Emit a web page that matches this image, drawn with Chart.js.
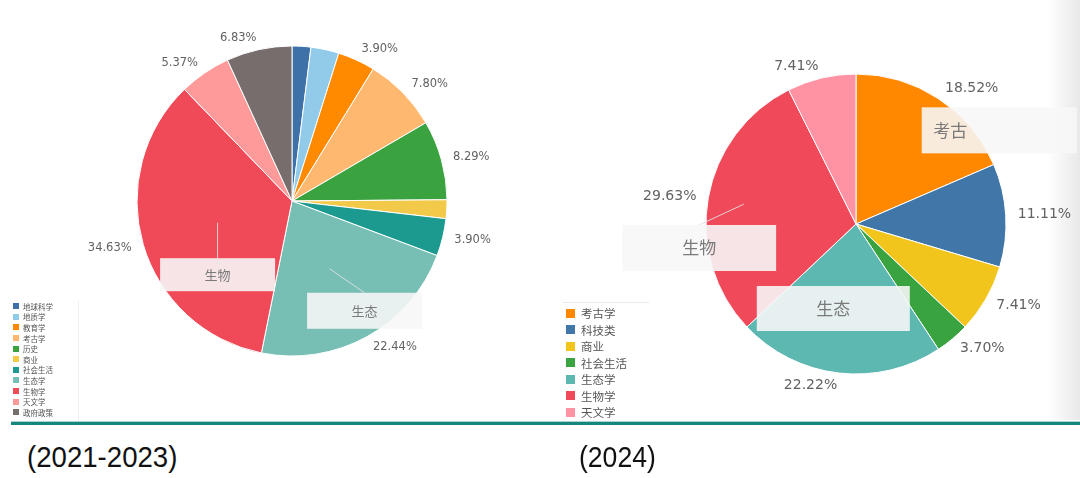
<!DOCTYPE html>
<html>
<head>
<meta charset="utf-8">
<script src="https://cdn.jsdelivr.net/npm/chart.js@4.4.1/dist/chart.umd.min.js"></script>
<style>
  html, body { margin: 0; padding: 0; background: #fff; }
  body { width: 1080px; height: 478px; position: relative; overflow: hidden; }
  canvas { position: absolute; }
  #leftChart { left: 72px; top: 1px; }
  #rightChart { left: 606px; top: 24px; }
  .legend { position: absolute; color: #555; font-family: "Noto Sans CJK SC", sans-serif; }
  .legend .item { display: flex; align-items: center; white-space: nowrap; }
  .legend .box { display: inline-block; flex: none; }
  #leftLegend { left: 10px; top: 301px; width: 68px; height: 120px; border-right: 1px solid #eee; font-size: 7.5px; }
  #leftLegend .item { height: 10.6px; }
  #leftLegend .box { width: 6px; height: 6px; margin: 0 4px 0 3px; }
  #rightLegend { left: 563px; top: 302px; width: 86px; border-top: 1px solid #eaeaea; font-size: 11.5px; padding-top: 2px; }
  #rightLegend .item { height: 16.5px; }
  #rightLegend .box { width: 9px; height: 9px; margin: 0 6px 0 3px; }
  .rule { position: absolute; left: 11px; top: 421px; width: 1069px; height: 3px; background: #16867d; border-top: 1px solid #a9d3cf; }
  .shade { position: absolute; left: 1048px; top: 0; width: 32px; height: 420px;
           background: linear-gradient(to right, rgba(235,235,235,0), rgba(232,232,232,1)); }
  .period { position: absolute; top: 440px; font-family: "Liberation Sans Narrow", "Arial Narrow", "Liberation Sans", sans-serif;
            font-size: 30px; color: #111; transform-origin: left top; }
</style>
</head>
<body>
<div class="shade"></div>
<canvas id="leftChart" width="440" height="400"></canvas>
<canvas id="rightChart" width="500" height="400"></canvas>
<div id="leftLegend" class="legend"></div>
<div id="rightLegend" class="legend"></div>
<div class="rule"></div>
<div class="period" id="p1" style="left:27px;">(2021-2023)</div>
<div class="period" id="p2" style="left:579px;">(2024)</div>
<script>
// ========= data: 2021-2023 =========
const leftCategories = ["地球科学", "地质学", "教育学", "考古学", "历史", "商业", "社会生活", "生态学", "生物学", "天文学", "政府政策"];
const leftValues = [1.95, 2.93, 3.90, 7.80, 8.29, 1.95, 3.90, 22.44, 34.63, 5.37, 6.83];
const leftLabels = [null, null, "3.90%", "7.80%", "8.29%", null, "3.90%", "22.44%", "34.63%", "5.37%", "6.83%"];
const leftColors = ["#3d71a8", "#92cbea", "#ff8a00", "#ffb86f", "#3aa23e", "#f3c94a", "#1d9a8f", "#77bfb4", "#f04a59", "#ff9a9b", "#776d6c"];

// ========= data: 2024 =========
const rightCategories = ["考古学", "科技类", "商业", "社会生活", "生态学", "生物学", "天文学"];
const rightValues = [18.52, 11.11, 7.41, 3.70, 22.22, 29.63, 7.41];
const rightLabels = ["18.52%", "11.11%", "7.41%", "3.70%", "22.22%", "29.63%", "7.41%"];
const rightColors = ["#ff8800", "#4176a8", "#f1c51c", "#38a33f", "#5db8b2", "#f04a5a", "#ff93a3"];

// callout boxes (dx/dy = offset of box centre from slice centroid)
const leftNotes = [
  { slice: 8, text: "生物", dx: 0, dy: 52, w: 115, h: 33, line: 0.5, size: 13 },
  { slice: 7, text: "生态", dx: 35, dy: 42, w: 115, h: 36, line: 0.5, size: 13 }
];
const rightNotes = [
  { slice: 0, text: "考古", dx: 102, dy: -31, w: 155, h: 46, line: null, size: 17, tx: -49 },
  { slice: 5, text: "生物", dx: -83, dy: 37, w: 154, h: 46, line: 0.76, size: 17 },
  { slice: 4, text: "生态", dx: -14, dy: 10, w: 153, h: 45, line: null, size: 17 }
];

const calloutPlugin = {
  id: "callouts",
  afterDatasetsDraw(chart, args, opts) {
    const ctx = chart.ctx;
    const arcs = chart.getDatasetMeta(0).data;
    // outside percent labels
    ctx.save();
    ctx.fillStyle = "#626262";
    ctx.font = opts.fontSize + "px 'DejaVu Sans', sans-serif";
    ctx.textBaseline = "middle";
    arcs.forEach((arc, i) => {
      const txt = opts.labels[i];
      if (!txt) return;
      const mid = (arc.startAngle + arc.endAngle) / 2;
      const rr = arc.outerRadius + opts.offset;
      ctx.textAlign = Math.cos(mid) >= 0 ? "left" : "right";
      ctx.fillText(txt, arc.x + Math.cos(mid) * rr, arc.y + Math.sin(mid) * rr);
    });
    // boxes
    opts.notes.forEach(n => {
      const arc = arcs[n.slice];
      const mid = (arc.startAngle + arc.endAngle) / 2;
      const c = arc.tooltipPosition();
      const bx = c.x + n.dx, by = c.y + n.dy;
      if (n.line !== null) {
        const lr = arc.outerRadius * n.line;
        ctx.strokeStyle = "rgba(225,225,225,0.9)";
        ctx.lineWidth = 1;
        ctx.beginPath();
        ctx.moveTo(arc.x + Math.cos(mid) * lr, arc.y + Math.sin(mid) * lr);
        ctx.lineTo(bx, by - n.h / 2);
        ctx.stroke();
      }
      ctx.fillStyle = "rgba(247,247,247,0.89)";
      ctx.fillRect(bx - n.w / 2, by - n.h / 2, n.w, n.h);
      ctx.fillStyle = "#7a7a7a";
      ctx.font = n.size + "px 'Noto Sans CJK SC', sans-serif";
      ctx.textAlign = "center";
      ctx.fillText(n.text, bx + (n.tx || 0), by);
    });
    ctx.restore();
  }
};

function makePie(el, cats, vals, colors, radius, labels, notes, fontSize) {
  return new Chart(el, {
    type: "pie",
    data: {
      labels: cats,
      datasets: [{ data: vals, backgroundColor: colors, borderColor: "#fff", borderWidth: 1, hoverOffset: 0 }]
    },
    options: {
      responsive: false,
      maintainAspectRatio: false,
      animation: false,
      radius: radius,
      events: [],
      plugins: {
        legend: { display: false },
        tooltip: { enabled: false },
        callouts: { labels: labels, notes: notes, fontSize: fontSize, offset: 12 }
      }
    },
    plugins: [calloutPlugin]
  });
}

makePie(document.getElementById("leftChart"), leftCategories, leftValues, leftColors, 155, leftLabels, leftNotes, 11.5);
makePie(document.getElementById("rightChart"), rightCategories, rightValues, rightColors, 150, rightLabels, rightNotes, 14);

function buildLegend(id, cats, colors) {
  const box = document.getElementById(id);
  cats.forEach((c, i) => {
    const it = document.createElement("div");
    it.className = "item";
    it.innerHTML = '<span class="box" style="background:' + colors[i] + '"></span>' + c;
    box.appendChild(it);
  });
}
buildLegend("leftLegend", leftCategories, leftColors);
buildLegend("rightLegend", rightCategories, rightColors);

// squeeze the period captions to the narrow look
document.querySelectorAll(".period").forEach((el, i) => {
  const target = i === 0 ? 150 : 77;
  el.style.transform = "scaleX(" + (target / el.offsetWidth) + ")";
});
</script>
</body>
</html>
